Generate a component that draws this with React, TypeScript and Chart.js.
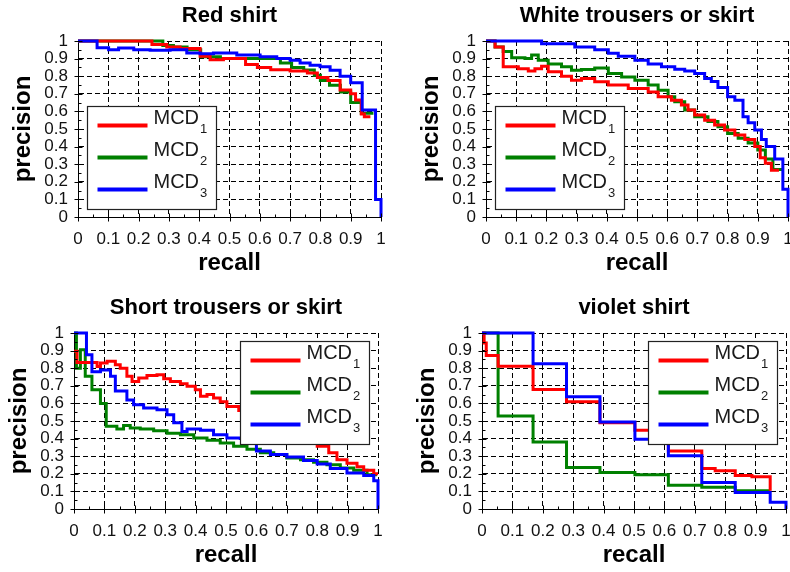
import React, { useEffect, useRef } from 'react';
import { Chart, registerables } from 'chart.js';

Chart.register(...registerables);
Chart.defaults.font.family = "'Liberation Sans', Arial, sans-serif";
Chart.defaults.color = '#111';

// ---------------- data ----------------
const tickLabels = ['0', '0.1', '0.2', '0.3', '0.4', '0.5', '0.6', '0.7', '0.8', '0.9', '1'];
const panelTitles = ['Red shirt', 'White trousers or skirt', 'Short trousers or skirt', 'violet shirt'];
const seriesNames = ['MCD', 'MCD', 'MCD'];
const seriesSubscripts = ['1', '2', '3'];
const seriesColors = ['#ff0000', '#008000', '#0000ff'];
const axisXTitle = 'recall';
const axisYTitle = 'precision';

// Red shirt
const redShirtMcd1Recall = [0, 0.244, 0.293, 0.337, 0.403, 0.436, 0.48, 0.553, 0.592, 0.636, 0.7, 0.757, 0.79, 0.825, 0.865, 0.9, 0.916, 0.935, 0.945, 0.965];
const redShirtMcd1Precision = [1, 0.98, 0.966, 0.957, 0.913, 0.894, 0.9, 0.867, 0.85, 0.837, 0.83, 0.818, 0.792, 0.775, 0.722, 0.7, 0.665, 0.585, 0.57, 0.57];
const redShirtMcd2Recall = [0, 0.28, 0.315, 0.36, 0.405, 0.47, 0.668, 0.705, 0.745, 0.78, 0.8, 0.83, 0.866, 0.9, 0.935, 0.975];
const redShirtMcd2Precision = [1, 0.975, 0.966, 0.95, 0.91, 0.9, 0.875, 0.85, 0.835, 0.805, 0.775, 0.748, 0.71, 0.65, 0.59, 0.59];
const redShirtMcd3Recall = [0, 0.063, 0.101, 0.134, 0.184, 0.238, 0.304, 0.359, 0.403, 0.447, 0.524, 0.601, 0.656, 0.7, 0.733, 0.766, 0.799, 0.832, 0.865, 0.9, 0.938, 0.982, 1];
const redShirtMcd3Precision = [1, 0.962, 0.95, 0.96, 0.95, 0.947, 0.95, 0.932, 0.928, 0.932, 0.92, 0.91, 0.9, 0.89, 0.875, 0.862, 0.853, 0.834, 0.8, 0.763, 0.608, 0.1, 0];

// White trousers or skirt
const whiteTrousersMcd1Recall = [0, 0.03, 0.057, 0.107, 0.14, 0.162, 0.184, 0.206, 0.25, 0.283, 0.316, 0.36, 0.405, 0.471, 0.537, 0.57, 0.614, 0.647, 0.669, 0.691, 0.724, 0.757, 0.79, 0.824, 0.857, 0.89, 0.908, 0.925, 0.945, 0.97];
const whiteTrousersMcd1Precision = [1, 0.966, 0.853, 0.843, 0.83, 0.843, 0.857, 0.825, 0.8, 0.777, 0.787, 0.768, 0.75, 0.73, 0.71, 0.683, 0.664, 0.636, 0.608, 0.58, 0.55, 0.523, 0.494, 0.466, 0.44, 0.4, 0.337, 0.306, 0.265, 0.265];
const whiteTrousersMcd2Recall = [0, 0.03, 0.057, 0.085, 0.129, 0.151, 0.173, 0.206, 0.25, 0.283, 0.316, 0.36, 0.405, 0.449, 0.493, 0.537, 0.57, 0.603, 0.625, 0.658, 0.691, 0.735, 0.768, 0.8, 0.835, 0.868, 0.9, 0.925, 0.95, 0.985];
const whiteTrousersMcd2Precision = [1, 0.966, 0.94, 0.905, 0.9, 0.92, 0.89, 0.87, 0.853, 0.834, 0.838, 0.847, 0.815, 0.796, 0.777, 0.75, 0.72, 0.683, 0.655, 0.608, 0.57, 0.543, 0.513, 0.475, 0.447, 0.42, 0.38, 0.33, 0.27, 0.27];
const whiteTrousersMcd3Recall = [0, 0.184, 0.294, 0.36, 0.405, 0.438, 0.493, 0.537, 0.581, 0.625, 0.658, 0.691, 0.724, 0.746, 0.768, 0.8, 0.824, 0.851, 0.868, 0.89, 0.912, 0.928, 0.956, 0.983, 1];
const whiteTrousersMcd3Precision = [1, 0.985, 0.966, 0.95, 0.93, 0.913, 0.89, 0.87, 0.853, 0.84, 0.83, 0.815, 0.787, 0.77, 0.736, 0.683, 0.664, 0.57, 0.536, 0.494, 0.44, 0.4, 0.33, 0.158, 0];

// Short trousers or skirt
const shortTrousersMcd1Recall = [0, 0.01, 0.076, 0.087, 0.109, 0.136, 0.152, 0.174, 0.191, 0.213, 0.24, 0.273, 0.295, 0.317, 0.35, 0.372, 0.399, 0.416, 0.4375, 0.459, 0.481, 0.503, 0.542, 0.6, 0.64, 0.68, 0.72, 0.76, 0.8, 0.838, 0.865, 0.898, 0.931, 0.953, 0.986, 1];
const shortTrousersMcd1Precision = [0.896, 0.833, 0.81, 0.83, 0.84, 0.82, 0.8, 0.754, 0.725, 0.744, 0.758, 0.763, 0.74, 0.725, 0.712, 0.697, 0.678, 0.64, 0.65, 0.63, 0.61, 0.583, 0.56, 0.53, 0.5, 0.47, 0.43, 0.39, 0.356, 0.32, 0.28, 0.26, 0.24, 0.22, 0.2, 0.2];
const shortTrousersMcd2Recall = [0, 0.008, 0.021, 0.037, 0.059, 0.087, 0.106, 0.141, 0.163, 0.185, 0.218, 0.262, 0.306, 0.35, 0.394, 0.4375, 0.481, 0.525, 0.569, 0.613, 0.657, 0.7, 0.745, 0.788, 0.832, 0.876, 0.92, 0.964, 0.997];
const shortTrousersMcd2Precision = [1, 0.8, 0.905, 0.754, 0.678, 0.6, 0.47, 0.455, 0.474, 0.46, 0.455, 0.445, 0.43, 0.422, 0.403, 0.39, 0.375, 0.356, 0.34, 0.32, 0.309, 0.29, 0.28, 0.265, 0.252, 0.233, 0.22, 0.195, 0.195];
const shortTrousersMcd3Recall = [0, 0.041, 0.059, 0.087, 0.12, 0.136, 0.174, 0.196, 0.229, 0.273, 0.306, 0.328, 0.355, 0.372, 0.416, 0.459, 0.503, 0.547, 0.6, 0.646, 0.7, 0.755, 0.8, 0.843, 0.898, 0.953, 0.986, 1];
const shortTrousersMcd3Precision = [1, 0.877, 0.78, 0.79, 0.754, 0.67, 0.62, 0.593, 0.574, 0.564, 0.536, 0.49, 0.44, 0.455, 0.447, 0.422, 0.403, 0.4, 0.33, 0.31, 0.295, 0.275, 0.255, 0.23, 0.205, 0.19, 0.16, 0];

// violet shirt
const violetShirtMcd1Recall = [0, 0.007, 0.014, 0.053, 0.168, 0.278, 0.388, 0.503, 0.613, 0.723, 0.767, 0.833, 0.888, 0.948];
const violetShirtMcd1Precision = [1, 0.943, 0.872, 0.811, 0.679, 0.609, 0.49, 0.447, 0.33, 0.23, 0.217, 0.19, 0.183, 0.104];
const violetShirtMcd2Recall = [0, 0.053, 0.168, 0.278, 0.388, 0.503, 0.613, 0.723, 0.833, 0.948];
const violetShirtMcd2Precision = [1, 0.528, 0.38, 0.236, 0.208, 0.194, 0.135, 0.123, 0.104, 0.104];
const violetShirtMcd3Recall = [0, 0.168, 0.278, 0.388, 0.503, 0.613, 0.723, 0.833, 0.948, 1];
const violetShirtMcd3Precision = [1, 0.825, 0.638, 0.494, 0.396, 0.302, 0.151, 0.094, 0.038, 0];

const panelSeries = [
  [[redShirtMcd1Recall, redShirtMcd1Precision], [redShirtMcd2Recall, redShirtMcd2Precision], [redShirtMcd3Recall, redShirtMcd3Precision]],
  [[whiteTrousersMcd1Recall, whiteTrousersMcd1Precision], [whiteTrousersMcd2Recall, whiteTrousersMcd2Precision], [whiteTrousersMcd3Recall, whiteTrousersMcd3Precision]],
  [[shortTrousersMcd1Recall, shortTrousersMcd1Precision], [shortTrousersMcd2Recall, shortTrousersMcd2Precision], [shortTrousersMcd3Recall, shortTrousersMcd3Precision]],
  [[violetShirtMcd1Recall, violetShirtMcd1Precision], [violetShirtMcd2Recall, violetShirtMcd2Precision], [violetShirtMcd3Recall, violetShirtMcd3Precision]],
];

// ---------------- layout (not data) ----------------
const W = 395;
const H = 286;
const layouts = [
  { left: 0, top: 0, l: 78, r: 381, t: 41, b: 217, legend: 'sw' },
  { left: 395, top: 0, l: 91, r: 393, t: 41, b: 217, legend: 'sw' },
  { left: 0, top: 286, l: 74, r: 378, t: 47, b: 223, legend: 'ne' },
  { left: 395, top: 286, l: 87, r: 391, t: 47, b: 223, legend: 'ne' },
];
const drawOrder = [1, 2, 0]; // blue on top, red, then green

const tickMarksPlugin = {
  id: 'tickMarks',
  afterDraw(chart: any) {
    const { ctx, chartArea } = chart;
    const { left, bottom } = chartArea;
    const xs = chart.scales.x;
    const ys = chart.scales.y;
    ctx.save();
    ctx.strokeStyle = '#000';
    ctx.lineWidth = 1;
    ctx.setLineDash([]);
    ctx.beginPath();
    for (let k = 0; k <= 20; k++) {
      const v = k / 20;
      const px = Math.round(xs.getPixelForValue(v)) + 0.5;
      const py = Math.round(ys.getPixelForValue(v)) + 0.5;
      const bx = Math.round(left) + 0.5;
      const by = Math.round(bottom) + 0.5;
      if (k % 2 === 0) {
        ctx.moveTo(px, by + 4); ctx.lineTo(px, by - 4);
        ctx.moveTo(bx - 4, py); ctx.lineTo(bx + 4, py);
      } else {
        ctx.moveTo(px, by); ctx.lineTo(px, by - 3);
        ctx.moveTo(bx, py); ctx.lineTo(bx + 3, py);
      }
    }
    ctx.stroke();
    ctx.restore();
  },
};

const boxLegendPlugin = {
  id: 'boxLegend',
  afterDraw(chart: any, _args: any, opts: any) {
    const { ctx, chartArea } = chart;
    const bw = 129;
    const bh = 103;
    let bx: number, by: number;
    if (opts.corner === 'sw') {
      bx = chartArea.left + 9;
      by = chartArea.bottom - 8 - bh;
    } else {
      bx = chartArea.right - 9 - bw;
      by = chartArea.top + 8;
    }
    bx = Math.round(bx) + 0.5;
    by = Math.round(by) + 0.5;
    ctx.save();
    ctx.setLineDash([]);
    ctx.fillStyle = '#fff';
    ctx.fillRect(bx, by, bw, bh);
    ctx.strokeStyle = '#222';
    ctx.lineWidth = 1.2;
    ctx.strokeRect(bx, by, bw, bh);
    chart.data.datasets.forEach((ds: any, i: number) => {
      const ly = by + 19 + 32 * i;
      ctx.strokeStyle = ds.borderColor;
      ctx.lineWidth = 4;
      ctx.beginPath();
      ctx.moveTo(bx + 10, ly);
      ctx.lineTo(bx + 60, ly);
      ctx.stroke();
      ctx.fillStyle = '#1a1a1a';
      ctx.textAlign = 'left';
      ctx.textBaseline = 'alphabetic';
      ctx.font = "20px 'Liberation Sans', Arial, sans-serif";
      const name = seriesNames[i];
      ctx.fillText(name, bx + 66, by + 17 + 32 * i);
      const w = ctx.measureText(name).width;
      ctx.font = "13px 'Liberation Sans', Arial, sans-serif";
      ctx.fillText(seriesSubscripts[i], bx + 66 + w + 1, by + 26 + 32 * i);
    });
    ctx.restore();
  },
};

function makeConfig(idx: number): any {
  const lay = layouts[idx];
  const datasets = panelSeries[idx].map(([rec, prec], i) => ({
    label: seriesNames[i] + seriesSubscripts[i],
    data: rec.map((x, j) => ({ x, y: prec[j] })),
    borderColor: seriesColors[i],
    backgroundColor: seriesColors[i],
    borderWidth: 3,
    pointRadius: 0,
    stepped: 'before',
    fill: false,
    clip: false,
    order: drawOrder[i],
  }));
  const fixX = (scale: any) => {
    scale.height = H - lay.b;
    scale.paddingLeft = 0; scale.paddingRight = 0; scale.paddingTop = 0; scale.paddingBottom = 0;
  };
  const fixY = (scale: any) => {
    scale.width = lay.l;
    scale.paddingLeft = 0; scale.paddingRight = 0; scale.paddingTop = 0; scale.paddingBottom = 0;
  };
  return {
    type: 'line',
    data: { datasets },
    options: {
      responsive: false,
      animation: false,
      events: [],
      layout: { padding: { left: 0, top: 0, bottom: 0, right: W - lay.r } },
      plugins: {
        legend: { display: false },
        tooltip: { enabled: false },
        title: {
          display: true,
          text: panelTitles[idx],
          fullSize: false,
          color: '#000',
          font: { size: 22, weight: 'bold', lineHeight: 1.2 },
          padding: { top: lay.t - 38.7, bottom: 12.3 },
        },
        boxLegend: { corner: lay.legend },
      },
      scales: {
        x: {
          type: 'linear',
          min: 0,
          max: 1,
          afterFit: fixX,
          grid: { color: '#000', lineWidth: 1, drawTicks: false },
          border: { display: true, color: '#000', width: 1, dash: [5, 3] },
          ticks: {
            stepSize: 0.1,
            autoSkip: false,
            maxRotation: 0,
            padding: 12.5,
            color: '#111',
            font: { size: 17 },
            callback: (_v: any, i: number) => tickLabels[i],
          },
          title: {
            display: true,
            text: axisXTitle,
            color: '#000',
            font: { size: 24, weight: 'bold', lineHeight: 1.2 },
            padding: { top: 0, bottom: H - lay.b - 46.7 - 14.4 },
          },
        },
        y: {
          type: 'linear',
          min: 0,
          max: 1,
          afterFit: fixY,
          grid: { color: '#000', lineWidth: 1, drawTicks: false },
          border: { display: true, color: '#000', width: 1, dash: [5, 3] },
          ticks: {
            stepSize: 0.1,
            autoSkip: false,
            padding: 10,
            color: '#111',
            font: { size: 17 },
            callback: (_v: any, i: number) => tickLabels[i],
          },
          title: {
            display: true,
            text: axisYTitle,
            color: '#000',
            font: { size: 24, weight: 'bold', lineHeight: 1.2 },
            padding: { top: lay.l - 54.5 - 14.4, bottom: 0 },
          },
        },
      },
    },
    plugins: [tickMarksPlugin, boxLegendPlugin],
  };
}

function Panel({ idx }: { idx: number }) {
  const ref = useRef<HTMLCanvasElement | null>(null);
  useEffect(() => {
    if (!ref.current) return;
    const chart = new Chart(ref.current, makeConfig(idx));
    return () => chart.destroy();
  }, [idx]);
  const lay = layouts[idx];
  return (
    <canvas
      ref={ref}
      width={W}
      height={H}
      style={{ position: 'absolute', left: lay.left, top: lay.top, width: W, height: H, display: 'block' }}
    />
  );
}

export default function App() {
  return (
    <div style={{ position: 'absolute', left: 0, top: 0, width: 790, height: 572, background: '#fff', overflow: 'hidden' }}>
      {[0, 1, 2, 3].map((i) => (
        <Panel key={i} idx={i} />
      ))}
    </div>
  );
}
